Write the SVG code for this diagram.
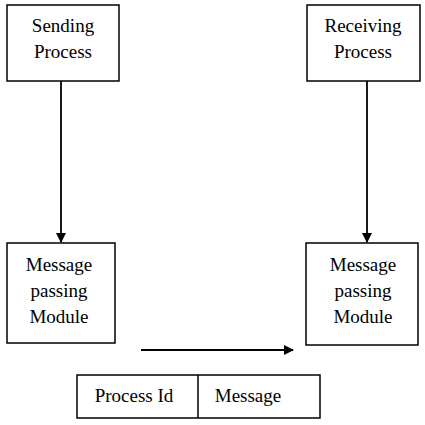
<svg xmlns="http://www.w3.org/2000/svg" width="425" height="425" viewBox="0 0 425 425">
<style>
rect{fill:#fff;stroke:#000;stroke-width:1.5}
text{font-family:'Liberation Serif','DejaVu Serif',serif;font-size:19px;fill:#000;text-anchor:middle}
.c{stroke:#000;stroke-width:1.8;fill:none}
</style>
<defs><marker id="a" markerWidth="10" markerHeight="10" refX="9" refY="5" orient="auto" markerUnits="userSpaceOnUse"><path d="M0,0 L10,5 L0,10 Z" fill="#000"/></marker></defs>
<rect x="0" y="0" width="425" height="425" style="stroke:none"/>
<g id="conn">
<line class="c" x1="61" y1="81" x2="61" y2="242" marker-end="url(#a)"/>
<line class="c" x1="367" y1="81" x2="367" y2="242" marker-end="url(#a)"/>
<line class="c" x1="141" y1="350" x2="293" y2="350" marker-end="url(#a)"/>
</g>
<g id="sending"><rect x="7" y="5" width="112" height="76"/><text x="63" y="32">Sending</text><text x="63" y="58">Process</text></g>
<g id="receiving"><rect x="307" y="5" width="113" height="76"/><text x="363" y="32">Receiving</text><text x="363" y="58">Process</text></g>
<g id="mpm1"><rect x="7" y="243" width="108" height="100"/><text x="59" y="271">Message</text><text x="59" y="297">passing</text><text x="59" y="323">Module</text></g>
<g id="mpm2"><rect x="306" y="243" width="112" height="102"/><text x="363" y="271">Message</text><text x="363" y="297">passing</text><text x="363" y="323">Module</text></g>
<g id="packet"><rect x="77" y="375" width="243" height="43"/><line x1="198" y1="375" x2="198" y2="418" stroke="#000" stroke-width="1.5"/><text x="134" y="402">Process Id</text><text x="248" y="402">Message</text></g>
</svg>
